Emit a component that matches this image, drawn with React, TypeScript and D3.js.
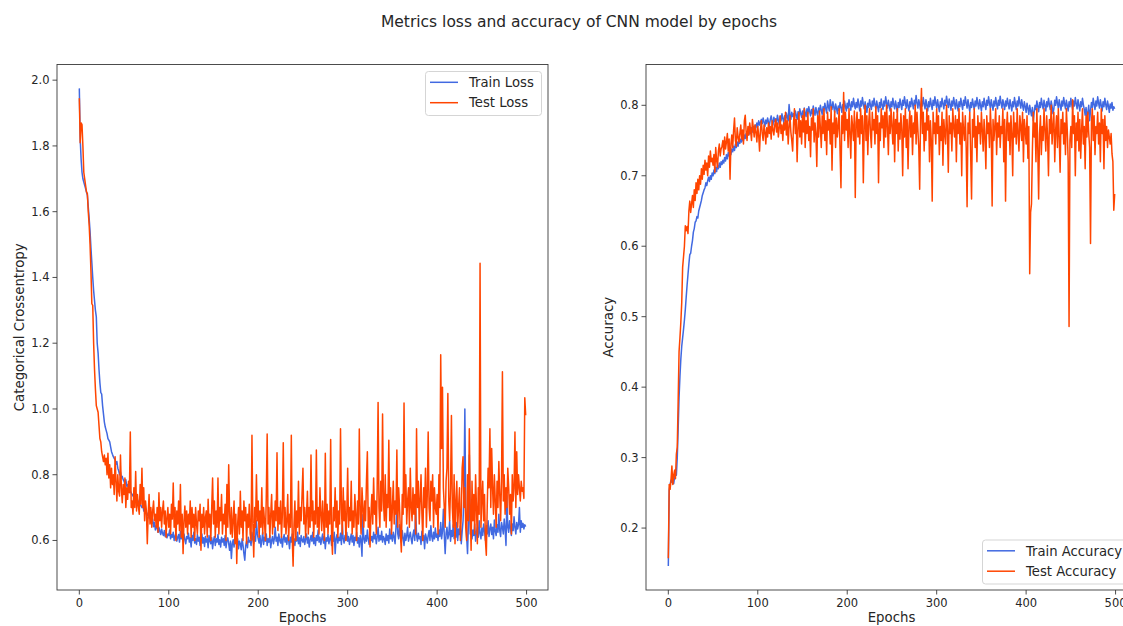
import React from "react";
import * as d3 from "d3";

const TITLE = "Metrics loss and accuracy of CNN model by epochs";

const trainLoss: number[] = [
1.975,1.820,1.760,1.720,1.700,1.690,1.680,1.670,1.660,1.650,
1.615,1.580,1.540,1.490,1.445,1.400,1.360,1.330,1.300,1.280,
1.200,1.170,1.120,1.080,1.050,1.045,1.010,0.985,0.960,0.945,
0.935,0.925,0.910,0.905,0.900,0.885,0.870,0.862,0.855,0.850,
0.845,0.832,0.840,0.820,0.812,0.800,0.808,0.790,0.795,0.785,
0.780,0.772,0.785,0.765,0.770,0.758,0.762,0.750,0.745,0.740,
0.735,0.742,0.728,0.725,0.732,0.718,0.715,0.722,0.708,0.705,
0.700,0.712,0.690,0.688,0.695,0.680,0.676,0.684,0.668,0.672,
0.660,0.652,0.665,0.642,0.655,0.632,0.645,0.638,0.625,0.640,
0.628,0.618,0.635,0.622,0.615,0.630,0.612,0.625,0.608,0.620,
0.615,0.632,0.605,0.618,0.610,0.625,0.600,0.612,0.622,0.598,
0.610,0.618,0.595,0.628,0.605,0.615,0.598,0.620,0.602,0.590,
0.612,0.605,0.622,0.595,0.608,0.580,0.615,0.600,0.625,0.592,
0.605,0.588,0.618,0.598,0.610,0.585,0.602,0.620,0.592,0.608,
0.582,0.612,0.595,0.605,0.578,0.615,0.598,0.590,0.608,0.575,
0.600,0.612,0.585,0.605,0.595,0.618,0.588,0.602,0.580,0.610,
0.595,0.605,0.585,0.615,0.578,0.600,0.608,0.590,0.570,0.598,
0.545,0.590,0.602,0.580,0.612,0.595,0.588,0.605,0.575,0.598,
0.590,0.572,0.605,0.585,0.560,0.540,0.585,0.598,0.578,0.610,
0.595,0.600,0.585,0.625,0.605,0.590,0.612,0.598,0.660,0.620,
0.605,0.592,0.615,0.580,0.600,0.625,0.588,0.610,0.598,0.620,
0.585,0.605,0.595,0.615,0.578,0.600,0.612,0.590,0.605,0.640,
0.598,0.610,0.585,0.620,0.600,0.592,0.612,0.580,0.605,0.618,
0.595,0.608,0.588,0.615,0.600,0.575,0.610,0.595,0.620,0.590,
0.605,0.585,0.612,0.598,0.625,0.590,0.608,0.582,0.615,0.600,
0.595,0.612,0.588,0.605,0.620,0.592,0.610,0.580,0.602,0.615,
0.598,0.625,0.590,0.608,0.585,0.615,0.600,0.632,0.595,0.610,
0.588,0.605,0.620,0.592,0.612,0.575,0.608,0.598,0.618,0.590,
0.605,0.615,0.585,0.610,0.598,0.625,0.560,0.605,0.618,0.592,
0.610,0.600,0.622,0.588,0.650,0.605,0.592,0.615,0.600,0.625,
0.598,0.612,0.588,0.605,0.620,0.595,0.615,0.585,0.610,0.600,
0.625,0.592,0.608,0.580,0.615,0.600,0.552,0.678,0.605,0.592,
0.615,0.598,0.632,0.605,0.588,0.620,0.600,0.612,0.595,0.625,
0.605,0.618,0.590,0.610,0.640,0.598,0.615,0.602,0.628,0.595,
0.612,0.605,0.588,0.620,0.600,0.615,0.592,0.635,0.605,0.618,
0.598,0.625,0.610,0.590,0.640,0.697,0.620,0.605,0.648,0.612,
0.595,0.630,0.608,0.585,0.622,0.600,0.615,0.640,0.598,0.612,
0.625,0.605,0.590,0.618,0.632,0.600,0.700,0.615,0.598,0.622,
0.605,0.612,0.588,0.628,0.600,0.615,0.575,0.620,0.608,0.592,
0.615,0.630,0.600,0.645,0.612,0.598,0.625,0.605,0.638,0.610,
0.620,0.600,0.632,0.612,0.655,0.605,0.628,0.695,0.615,0.560,
0.622,0.640,0.605,0.618,0.660,0.598,0.630,0.612,0.648,0.605,
0.625,0.610,0.655,0.600,0.635,0.618,0.645,0.590,0.628,0.660,
0.745,1.000,0.700,0.612,0.560,0.650,0.860,0.620,0.640,0.605,
0.632,0.615,0.650,0.598,0.625,0.640,0.610,0.660,0.620,0.605,
0.638,0.615,0.650,0.628,0.600,0.645,0.620,0.660,0.612,0.635,
0.650,0.618,0.640,0.605,0.662,0.628,0.615,0.648,0.625,0.680,
0.630,0.612,0.655,0.640,0.620,0.665,0.635,0.585,0.736,0.640,
0.625,0.660,0.638,0.615,0.650,0.630,0.672,0.640,0.620,0.655,
0.635,0.648,0.700,0.625,0.660,0.640,0.652,0.635,0.648,0.642,
];

const testLoss: number[] = [
1.945,1.810,1.870,1.865,1.800,1.720,1.700,1.680,1.660,1.655,
1.600,1.560,1.500,1.420,1.320,1.315,1.200,1.120,1.060,1.010,
1.000,0.990,0.950,0.910,0.900,0.870,0.855,0.840,0.860,0.830,
0.850,0.800,0.865,0.790,0.830,0.760,0.820,0.770,0.800,0.740,
0.855,0.780,0.720,0.800,0.750,0.735,0.860,0.760,0.715,0.770,
0.740,0.790,0.700,0.760,0.725,0.780,0.745,0.930,0.700,0.720,
0.680,0.760,0.700,0.810,0.690,0.740,0.705,0.680,0.770,0.710,
0.820,0.700,0.760,0.660,0.720,0.690,0.590,0.680,0.740,0.650,
0.700,0.640,0.690,0.720,0.660,0.680,0.640,0.700,0.625,0.745,
0.660,0.700,0.640,0.690,0.720,0.650,0.690,0.610,0.670,0.700,
0.640,0.680,0.620,0.710,0.665,0.775,0.640,0.700,0.600,0.690,
0.650,0.720,0.630,0.770,0.610,0.680,0.560,0.660,0.705,0.640,
0.690,0.620,0.680,0.650,0.720,0.610,0.700,0.640,0.680,0.600,
0.700,0.650,0.620,0.690,0.660,0.710,0.570,0.680,0.640,0.700,
0.620,0.670,0.690,0.610,0.725,0.640,0.680,0.600,0.700,0.790,
0.650,0.720,0.610,0.690,0.640,0.790,0.620,0.700,0.660,0.740,
0.620,0.680,0.650,0.710,0.600,0.770,0.640,0.830,0.680,0.620,
0.700,0.610,0.660,0.720,0.590,0.680,0.530,0.650,0.700,0.620,
0.750,0.640,0.690,0.600,0.720,0.660,0.700,0.590,0.680,0.640,
0.710,0.620,0.600,0.920,0.650,0.550,0.700,0.640,0.800,0.660,
0.720,0.610,0.690,0.640,0.760,0.620,0.700,0.660,0.600,0.730,
0.924,0.650,0.700,0.610,0.680,0.740,0.620,0.690,0.640,0.720,
0.660,0.867,0.630,0.700,0.650,0.720,0.610,0.680,0.897,0.640,
0.700,0.620,0.660,0.740,0.600,0.680,0.640,0.920,0.610,0.522,
0.650,0.720,0.600,0.690,0.640,0.780,0.620,0.700,0.660,0.740,
0.820,0.650,0.700,0.610,0.680,0.750,0.620,0.700,0.640,0.860,
0.660,0.720,0.610,0.690,0.650,0.875,0.640,0.700,0.620,0.760,
0.680,0.630,0.720,0.660,0.600,0.865,0.640,0.710,0.620,0.690,
0.650,0.907,0.620,0.558,0.700,0.660,0.760,0.640,0.720,0.610,
0.690,0.650,0.940,0.700,0.620,0.760,0.660,0.720,0.600,0.680,
0.820,0.640,0.700,0.660,0.780,0.620,0.690,0.640,0.740,0.680,
0.600,0.720,0.650,0.939,0.680,0.620,0.760,0.700,0.640,0.720,
0.660,0.780,0.870,0.640,0.700,0.580,0.680,0.740,0.650,0.790,
0.680,0.720,0.620,0.760,1.020,0.700,0.640,0.780,0.690,0.985,
0.720,0.660,0.800,0.640,0.740,0.700,0.905,0.660,0.760,0.620,
0.700,0.780,0.650,0.720,0.680,0.875,0.640,0.760,0.700,0.620,
0.565,0.740,0.680,1.018,0.700,0.800,0.650,0.720,0.760,0.640,
0.820,0.700,0.660,0.760,0.680,0.740,0.620,0.940,0.700,0.780,
0.650,0.720,0.800,0.680,0.600,0.760,0.700,0.820,0.640,0.740,
0.930,0.700,0.660,0.780,0.720,0.800,0.640,0.760,0.700,0.680,
0.740,0.620,0.800,0.700,1.165,0.880,1.066,0.760,0.700,0.640,
0.780,0.820,1.047,0.720,0.660,0.760,0.980,0.700,0.640,0.800,
0.590,0.720,0.780,0.640,0.700,0.760,0.600,0.680,0.820,0.855,
0.700,0.760,0.640,0.600,0.800,0.660,0.940,0.700,0.570,0.780,
0.660,0.740,0.620,0.800,0.700,0.590,0.760,0.680,1.443,0.640,
0.720,0.780,0.660,0.740,0.600,0.555,0.700,0.820,0.760,0.940,
0.700,0.880,0.760,0.680,0.800,0.720,0.640,0.780,0.700,0.840,
0.740,0.660,0.780,1.113,0.720,0.800,0.680,0.760,0.700,0.820,
0.760,0.680,0.740,0.620,0.800,0.720,0.760,0.930,0.700,0.870,
0.740,0.800,0.760,0.720,0.780,0.750,0.760,0.728,1.034,0.981,
];

const trainAcc: number[] = [
0.146,0.254,0.262,0.268,0.265,0.270,0.263,0.272,0.283,0.275,
0.300,0.340,0.385,0.415,0.440,0.458,0.470,0.482,0.495,0.510,
0.528,0.545,0.560,0.575,0.588,0.590,0.600,0.608,0.620,0.625,
0.634,0.636,0.642,0.640,0.650,0.655,0.660,0.665,0.672,0.676,
0.680,0.683,0.690,0.686,0.693,0.698,0.692,0.700,0.695,0.704,
0.700,0.708,0.703,0.712,0.706,0.715,0.710,0.718,0.712,0.720,
0.716,0.722,0.718,0.726,0.721,0.730,0.724,0.733,0.728,0.736,
0.730,0.738,0.734,0.742,0.736,0.745,0.740,0.748,0.742,0.750,
0.746,0.752,0.748,0.755,0.750,0.758,0.753,0.760,0.755,0.762,
0.758,0.764,0.760,0.768,0.762,0.770,0.765,0.772,0.768,0.775,
0.770,0.778,0.772,0.776,0.780,0.774,0.782,0.776,0.770,0.779,
0.774,0.782,0.776,0.771,0.780,0.785,0.778,0.772,0.783,0.777,
0.781,0.775,0.786,0.779,0.773,0.784,0.778,0.788,0.781,0.776,
0.785,0.779,0.789,0.783,0.778,0.801,0.786,0.780,0.790,0.784,
0.788,0.782,0.792,0.786,0.780,0.791,0.785,0.795,0.788,0.783,
0.792,0.786,0.796,0.789,0.784,0.795,0.788,0.798,0.791,0.785,
0.794,0.788,0.799,0.792,0.786,0.797,0.790,0.785,0.796,0.791,
0.800,0.793,0.787,0.798,0.792,0.803,0.795,0.789,0.806,0.798,
0.792,0.808,0.800,0.794,0.805,0.797,0.790,0.802,0.796,0.788,
0.799,0.793,0.804,0.797,0.790,0.801,0.795,0.806,0.798,0.792,
0.803,0.796,0.808,0.800,0.793,0.805,0.798,0.810,0.801,0.795,
0.804,0.797,0.809,0.800,0.792,0.806,0.799,0.811,0.802,0.795,
0.805,0.798,0.790,0.803,0.797,0.808,0.800,0.794,0.806,0.799,
0.810,0.801,0.795,0.806,0.798,0.791,0.804,0.797,0.809,0.800,
0.794,0.806,0.799,0.812,0.803,0.796,0.807,0.800,0.792,0.805,
0.798,0.810,0.801,0.795,0.806,0.799,0.790,0.804,0.797,0.809,
0.801,0.794,0.807,0.800,0.812,0.803,0.796,0.808,0.799,0.792,
0.805,0.798,0.810,0.802,0.795,0.807,0.800,0.814,0.803,0.796,
0.808,0.801,0.793,0.806,0.799,0.811,0.802,0.795,0.808,0.800,
0.792,0.805,0.798,0.810,0.801,0.794,0.807,0.800,0.812,0.803,
0.796,0.808,0.799,0.791,0.805,0.798,0.810,0.802,0.795,0.807,
0.800,0.813,0.804,0.797,0.809,0.801,0.793,0.806,0.799,0.811,
0.802,0.795,0.808,0.800,0.792,0.805,0.798,0.810,0.801,0.794,
0.807,0.800,0.812,0.803,0.796,0.808,0.799,0.791,0.804,0.797,
0.809,0.801,0.794,0.806,0.799,0.811,0.802,0.795,0.808,0.800,
0.792,0.805,0.798,0.810,0.801,0.794,0.807,0.800,0.812,0.803,
0.796,0.808,0.800,0.793,0.806,0.799,0.811,0.802,0.795,0.807,
0.800,0.813,0.803,0.796,0.808,0.801,0.794,0.806,0.799,0.810,
0.802,0.795,0.808,0.800,0.792,0.805,0.798,0.811,0.802,0.794,
0.806,0.799,0.812,0.803,0.796,0.808,0.800,0.793,0.805,0.798,
0.790,0.803,0.796,0.787,0.800,0.792,0.785,0.797,0.778,0.790,
0.800,0.794,0.806,0.798,0.791,0.804,0.797,0.810,0.801,0.795,
0.807,0.800,0.792,0.805,0.798,0.810,0.801,0.794,0.806,0.799,
0.788,0.795,0.807,0.800,0.812,0.803,0.796,0.808,0.800,0.793,
0.806,0.799,0.811,0.802,0.795,0.807,0.800,0.792,0.805,0.798,
0.810,0.801,0.794,0.806,0.799,0.811,0.802,0.795,0.808,0.800,
0.792,0.805,0.798,0.810,0.801,0.794,0.786,0.797,0.782,0.790,
0.800,0.778,0.792,0.804,0.797,0.810,0.801,0.794,0.806,0.799,
0.812,0.803,0.796,0.808,0.800,0.792,0.805,0.798,0.810,0.801,
0.794,0.806,0.799,0.790,0.802,0.796,0.804,0.793,0.798,0.795,
];

const testAcc: number[] = [
0.157,0.262,0.255,0.268,0.288,0.262,0.275,0.282,0.270,0.305,
0.315,0.380,0.450,0.470,0.492,0.520,0.570,0.585,0.600,0.629,
0.622,0.628,0.618,0.650,0.664,0.648,0.660,0.672,0.655,0.680,
0.665,0.690,0.675,0.695,0.680,0.700,0.688,0.710,0.695,0.715,
0.702,0.722,0.708,0.718,0.700,0.728,0.712,0.735,0.720,0.725,
0.715,0.730,0.705,0.740,0.722,0.712,0.735,0.745,0.728,0.738,
0.742,0.750,0.730,0.755,0.738,0.748,0.760,0.735,0.752,0.695,
0.745,0.758,0.740,0.765,0.782,0.750,0.742,0.768,0.755,0.748,
0.760,0.772,0.752,0.765,0.745,0.778,0.786,0.762,0.750,0.770,
0.758,0.775,0.764,0.750,0.780,0.768,0.755,0.772,0.762,0.748,
0.770,0.758,0.735,0.765,0.778,0.760,0.750,0.772,0.762,0.745,
0.768,0.755,0.775,0.760,0.770,0.752,0.778,0.765,0.758,0.772,
0.780,0.762,0.775,0.755,0.768,0.785,0.760,0.772,0.750,0.775,
0.765,0.790,0.758,0.778,0.745,0.770,0.785,0.762,0.750,0.735,
0.775,0.795,0.760,0.780,0.720,0.768,0.790,0.755,0.778,0.745,
0.785,0.762,0.795,0.740,0.778,0.760,0.790,0.750,0.770,0.727,
0.782,0.765,0.795,0.748,0.775,0.760,0.713,0.785,0.755,0.792,
0.768,0.740,0.785,0.760,0.795,0.750,0.778,0.730,0.790,0.765,
0.780,0.745,0.798,0.708,0.775,0.760,0.792,0.740,0.782,0.755,
0.770,0.795,0.735,0.683,0.785,0.760,0.818,0.750,0.790,0.765,
0.780,0.740,0.795,0.760,0.725,0.785,0.770,0.750,0.792,0.669,
0.775,0.790,0.755,0.780,0.745,0.795,0.760,0.785,0.690,0.770,
0.800,0.750,0.785,0.730,0.775,0.795,0.760,0.740,0.790,0.765,
0.780,0.745,0.798,0.760,0.785,0.690,0.775,0.750,0.795,0.768,
0.785,0.740,0.790,0.755,0.800,0.770,0.730,0.785,0.760,0.795,
0.770,0.745,0.790,0.720,0.780,0.760,0.795,0.735,0.775,0.752,
0.788,0.765,0.700,0.785,0.755,0.795,0.740,0.780,0.710,0.770,
0.792,0.755,0.785,0.730,0.775,0.760,0.800,0.745,0.790,0.765,
0.740,0.681,0.785,0.824,0.760,0.790,0.735,0.775,0.750,0.795,
0.765,0.785,0.720,0.778,0.750,0.664,0.790,0.760,0.775,0.745,
0.795,0.760,0.785,0.730,0.770,0.750,0.790,0.715,0.780,0.760,
0.745,0.800,0.765,0.705,0.785,0.760,0.775,0.735,0.795,0.770,
0.755,0.785,0.720,0.780,0.760,0.795,0.745,0.775,0.700,0.790,
0.765,0.750,0.785,0.740,0.656,0.775,0.760,0.790,0.730,0.667,
0.780,0.755,0.795,0.740,0.770,0.720,0.785,0.760,0.775,0.745,
0.790,0.765,0.735,0.780,0.755,0.710,0.785,0.760,0.775,0.740,
0.795,0.765,0.657,0.780,0.750,0.770,0.795,0.730,0.775,0.755,
0.785,0.740,0.770,0.760,0.795,0.720,0.780,0.664,0.765,0.790,
0.750,0.775,0.730,0.785,0.760,0.700,0.790,0.755,0.775,0.745,
0.795,0.760,0.735,0.785,0.770,0.750,0.790,0.720,0.780,0.765,
0.745,0.785,0.725,0.770,0.561,0.648,0.660,0.735,0.790,0.755,
0.775,0.720,0.795,0.740,0.667,0.760,0.785,0.730,0.770,0.750,
0.795,0.765,0.735,0.785,0.755,0.700,0.780,0.760,0.800,0.745,
0.770,0.790,0.720,0.765,0.785,0.740,0.795,0.755,0.705,0.780,
0.760,0.790,0.745,0.775,0.730,0.795,0.765,0.720,0.486,0.750,
0.770,0.740,0.808,0.760,0.785,0.700,0.775,0.750,0.790,0.735,
0.780,0.725,0.765,0.795,0.745,0.770,0.710,0.785,0.755,0.790,
0.760,0.740,0.604,0.775,0.795,0.750,0.785,0.730,0.770,0.760,
0.790,0.745,0.775,0.720,0.795,0.760,0.780,0.710,0.785,0.750,
0.770,0.740,0.765,0.755,0.745,0.760,0.731,0.720,0.651,0.674,
];

const xTicks = [0, 100, 200, 300, 400, 500];
const lossTicks = [0.6, 0.8, 1.0, 1.2, 1.4, 1.6, 1.8, 2.0];
const accTicks = [0.2, 0.3, 0.4, 0.5, 0.6, 0.7, 0.8];

const BLUE = "#4169e1";
const RED = "#ff4500";
const FONT = "'DejaVu Sans', sans-serif";
const TXT = "#262626";

function padDomain(arrs: number[][]): [number, number] {
  const lo = d3.min(arrs, (a) => d3.min(a)) as number;
  const hi = d3.max(arrs, (a) => d3.max(a)) as number;
  const m = (hi - lo) * 0.05;
  return [lo - m, hi + m];
}

type PanelProps = {
  left: number;
  train: number[];
  test: number[];
  yTicks: number[];
  yLabel: string;
  legend: [string, string];
  legendPos: "ur" | "lr";
};

const TOP = 64.5;
const BOTTOM = 590;
const W = 491;

function Panel({ left, train, test, yTicks, yLabel, legend, legendPos }: PanelProps) {
  const n = train.length;
  const xm = (n - 1) * 0.05;
  const x = d3.scaleLinear().domain([-xm, n - 1 + xm]).range([left, left + W]);
  const y = d3.scaleLinear().domain(padDomain([train, test])).range([BOTTOM, TOP]);
  const line = d3
    .line<number>()
    .x((_, i) => x(i))
    .y((d) => y(d));
  const right = left + W;
  const fmt = (v: number) => v.toFixed(1);

  const lgW = legendPos === "ur" ? 116 : 160;
  const lgH = 44;
  const lgX = legendPos === "ur" ? right - 6.5 - lgW : right - 154.5;
  const lgY = legendPos === "ur" ? TOP + 7 : BOTTOM - 6 - lgH;

  return (
    <g>
      <path d={line(train) || ""} fill="none" stroke={BLUE} strokeWidth={1.5} strokeLinejoin="round" />
      <path d={line(test) || ""} fill="none" stroke={RED} strokeWidth={1.5} strokeLinejoin="round" />
      <rect x={left} y={TOP} width={W} height={BOTTOM - TOP} fill="none" stroke="#3a3a3a" strokeWidth={0.9} />
      {xTicks.map((t) => (
        <g key={"x" + t}>
          <line x1={x(t)} x2={x(t)} y1={BOTTOM} y2={BOTTOM + 4.5} stroke="#3a3a3a" strokeWidth={0.9} />
          <text x={x(t)} y={BOTTOM + 17} textAnchor="middle" fontSize={11.5} fontFamily={FONT} fill={TXT}>
            {t}
          </text>
        </g>
      ))}
      {yTicks.map((t) => (
        <g key={"y" + t}>
          <line x1={left - 4.5} x2={left} y1={y(t)} y2={y(t)} stroke="#3a3a3a" strokeWidth={0.9} />
          <text x={left - 7.5} y={y(t) + 4} textAnchor="end" fontSize={11.5} fontFamily={FONT} fill={TXT}>
            {fmt(t)}
          </text>
        </g>
      ))}
      <text x={(left + right) / 2} y={622} textAnchor="middle" fontSize={13.3} fontFamily={FONT} fill={TXT}>
        Epochs
      </text>
      <text
        transform={`translate(${left - 33},${(TOP + BOTTOM) / 2}) rotate(-90)`}
        textAnchor="middle"
        fontSize={13.3}
        fontFamily={FONT}
        fill={TXT}
      >
        {yLabel}
      </text>
      <g>
        <rect x={lgX} y={lgY} width={lgW} height={lgH} rx={3} fill="#fff" fillOpacity={0.8} stroke="#d5d5d5" strokeWidth={1} />
        {legend.map((lab, i) => (
          <g key={lab}>
            <line
              x1={lgX + 4.5}
              x2={lgX + 32.5}
              y1={lgY + 10.8 + i * 20.4}
              y2={lgY + 10.8 + i * 20.4}
              stroke={i === 0 ? BLUE : RED}
              strokeWidth={1.5}
            />
            <text x={lgX + 43.5} y={lgY + 15.5 + i * 20.4} fontSize={13.2} fontFamily={FONT} fill={TXT}>
              {lab}
            </text>
          </g>
        ))}
      </g>
    </g>
  );
}

export default function App() {
  return (
    <svg
      width={1123}
      height={626}
      style={{ position: "absolute", left: 0, top: 0, display: "block", background: "#fff" }}
    >
      <rect x={0} y={0} width={1123} height={626} fill="#fff" />
      <text x={579} y={27} textAnchor="middle" fontSize={15.5} fontFamily={FONT} fill={TXT}>
        {TITLE}
      </text>
      <Panel
        left={57}
        train={trainLoss}
        test={testLoss}
        yTicks={lossTicks}
        yLabel="Categorical Crossentropy"
        legend={["Train Loss", "Test Loss"]}
        legendPos="ur"
      />
      <Panel
        left={646}
        train={trainAcc}
        test={testAcc}
        yTicks={accTicks}
        yLabel="Accuracy"
        legend={["Train Accuracy", "Test Accuracy"]}
        legendPos="lr"
      />
    </svg>
  );
}
